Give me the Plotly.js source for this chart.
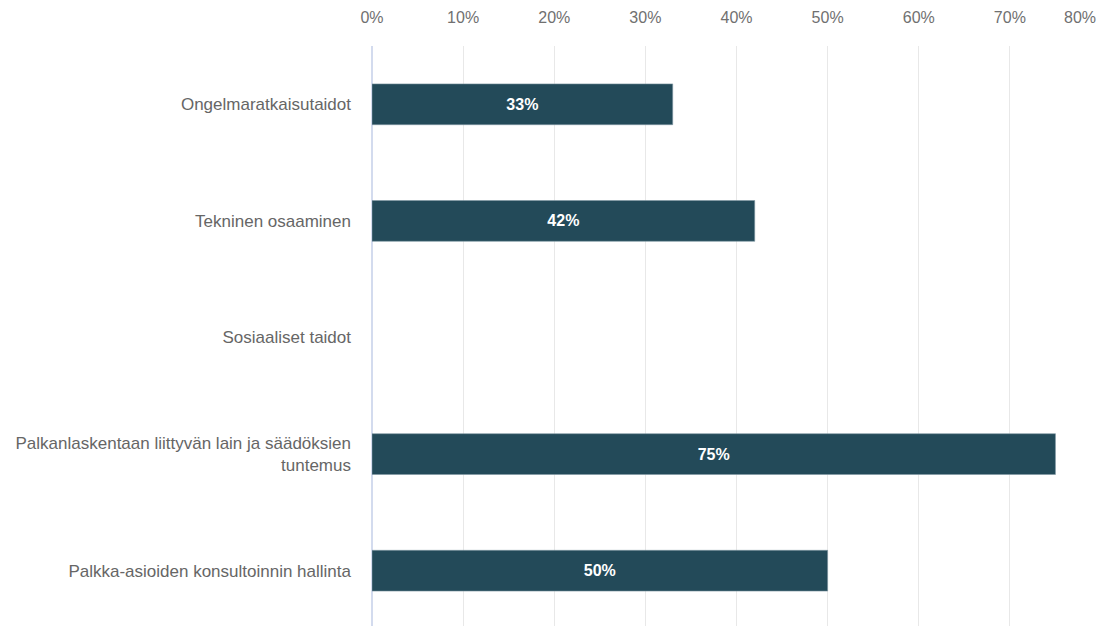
<!DOCTYPE html>
<html>
<head>
<meta charset="utf-8">
<script src="https://cdn.plot.ly/plotly-3.0.1.min.js"></script>
<style>
html,body{margin:0;padding:0;overflow:hidden;background:#fff;}
#chart{width:1107px;height:629px;}
</style>
</head>
<body>
<div id="chart"></div>
<script>
const categories = [
  "Ongelmaratkaisutaidot",
  "Tekninen osaaminen",
  "Sosiaaliset taidot",
  "Palkanlaskentaan liittyvän lain ja säädöksien<br>tuntemus",
  "Palkka-asioiden konsultoinnin hallinta"
];
const values = [33, 42, null, 75, 50];
const barLabels = ["33%", "42%", "", "75%", "50%"];
const tickValues = [0, 10, 20, 30, 40, 50, 60, 70, 80];
const tickLabels = ["0%", "10%", "20%", "30%", "40%", "50%", "60%", "70%", "80%"];

const trace = {
  type: "bar",
  orientation: "h",
  y: categories,
  x: values,
  text: barLabels,
  textposition: "inside",
  insidetextanchor: "middle",
  textangle: 0,
  texttemplate: "<b>%{text}</b>",
  textfont: {family: "Liberation Sans, Arial, sans-serif", size: 16, color: "#ffffff"},
  marker: {color: "#234a59", line: {color: "#7f97a3", width: 0.6}},
  hoverinfo: "none",
  cliponaxis: false
};

// last tick label is drawn right-aligned at its gridline so it stays inside the page
const shownTickText = tickLabels.map((t, i) => i === tickLabels.length - 1 ? "" : t);
const lastTick = {
  x: tickValues[tickValues.length - 1],
  xref: "x",
  y: 1,
  yref: "paper",
  text: tickLabels[tickLabels.length - 1],
  showarrow: false,
  xanchor: "right",
  yanchor: "middle",
  xshift: -3,
  yshift: 29,
  font: {family: "Liberation Sans, Arial, sans-serif", size: 16, color: "#707070"}
};

const layout = {
  width: 1107,
  height: 629,
  margin: {l: 372, r: 6, t: 46, b: 0},
  paper_bgcolor: "#ffffff",
  plot_bgcolor: "#ffffff",
  bargap: 0.65,
  showlegend: false,
  font: {family: "Liberation Sans, Arial, sans-serif", color: "#666666"},
  annotations: [lastTick],
  xaxis: {
    side: "top",
    range: [0, 80],
    tickvals: tickValues,
    ticktext: shownTickText,
    showgrid: true,
    gridcolor: "#e8e8e8",
    gridwidth: 1,
    zeroline: true,
    zerolinecolor: "#d3dbee",
    zerolinewidth: 2,
    showline: false,
    ticks: "",
    ticklabelstandoff: 19,
    tickfont: {size: 16, color: "#707070"},
    fixedrange: true
  },
  yaxis: {
    autorange: "reversed",
    showgrid: false,
    zeroline: false,
    showline: false,
    ticks: "",
    ticklabelstandoff: 20,
    tickfont: {size: 17, color: "#666666"},
    fixedrange: true
  }
};

Plotly.newPlot("chart", [trace], layout, {displayModeBar: false, staticPlot: true});
</script>
</body>
</html>
